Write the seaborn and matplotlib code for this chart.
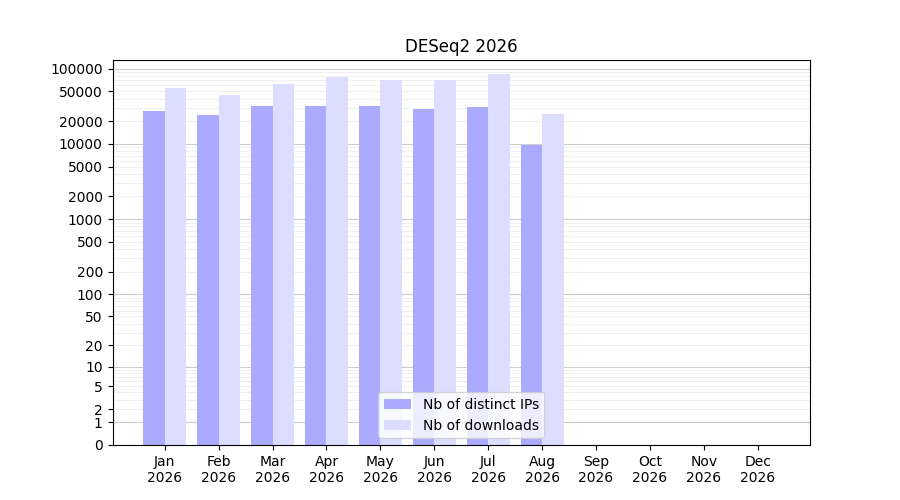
import numpy as np
import pandas as pd
import matplotlib
matplotlib.use("Agg")
import matplotlib.pyplot as plt
import seaborn as sns

months = ["Jan", "Feb", "Mar", "Apr", "May", "Jun", "Jul", "Aug", "Sep", "Oct", "Nov", "Dec"]
year = "2026"
ips = [27000, 24000, 32000, 32000, 32000, 29000, 31000, 9800, 0, 0, 0, 0]
downloads = [55000, 45000, 63000, 78000, 70000, 70000, 85000, 25000, 0, 0, 0, 0]
yticks = [0, 1, 2, 5, 10, 20, 50, 100, 200, 500, 1000, 2000, 5000, 10000, 20000, 50000, 100000]

labels = [f"{m}\n{year}" for m in months]
df = pd.DataFrame({
    "month": labels * 2,
    "value": ips + downloads,
    "series": ["Nb of distinct IPs"] * 12 + ["Nb of downloads"] * 12,
})

fig, ax = plt.subplots(figsize=(9, 5), dpi=100)
ax.set_yscale("function", functions=(lambda x: np.log10(np.maximum(x, 0) + 1),
                                      lambda y: 10 ** y - 1))
sns.barplot(data=df, x="month", y="value", hue="series", order=labels,
            palette=["#aaaaff", "#ddddff"], saturation=1, width=0.8, ax=ax)
ax.set_ylim(0, 130000)
ax.set_xlim(-0.97, 11.97)
ax.set_yticks(yticks)
ax.set_yticklabels([str(t) for t in yticks])
minor = [m * 10 ** e for e in range(0, 5) for m in range(2, 10)]
ax.set_yticks(minor, minor=True)
ax.tick_params(axis="y", which="minor", length=0)
ax.set_axisbelow(True)
for d in [1, 10, 100, 1000, 10000, 100000]:
    ax.axhline(d, color="#cccccc", lw=0.8, zorder=0)
for m in minor:
    ax.axhline(m, color="#eeeeee", lw=0.6, zorder=0)
ax.set_xlabel("")
ax.set_ylabel("")
ax.set_title("DESeq2 2026")
ax.legend(loc="lower center", title=None)
fig.savefig("out.png", dpi=100)
